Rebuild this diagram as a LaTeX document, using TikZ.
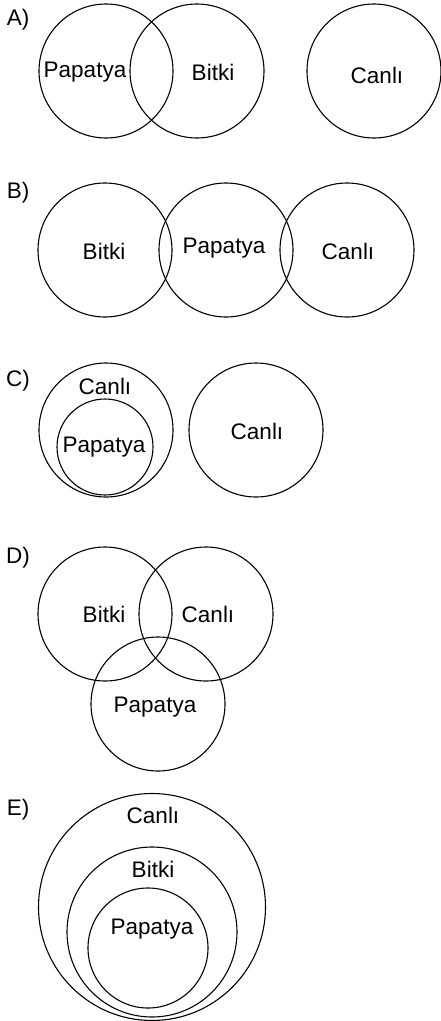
\documentclass[tikz,border=0pt]{standalone}
\usepackage{fontspec}
\setmainfont{Liberation Sans}
\usepackage{tikz}
\usetikzlibrary{positioning}
\tikzset{%
	venn/.style  = {draw, circle, line width=1.1pt, inner sep=0pt},
	small/.style = {venn, minimum size=96pt},
	mid/.style   = {venn, minimum size=120pt},
	big/.style   = {venn, minimum size=134pt},
	huge/.style  = {venn, minimum size=170pt},
	giant/.style = {venn, minimum size=227pt},
	setname/.style = {font=\fontsize{22.5}{26}\selectfont, inner sep=0pt},
	option/.style  = {font=\fontsize{22.5}{26}\selectfont, inner sep=0pt},
}
\begin{document}
\begin{tikzpicture}[x=1pt,y=-1pt]
		\useasboundingbox (0,0) rectangle (440,1021);
		
		\foreach \l/\y in {A/20,B/193,C/381,D/558,E/810} \node[option] (opt\l) at (18,\y) {\l)};
		
		\node[big] (aP) at (106,71) {};
		\node[big] (aB) at (197,71) {};
		\node[big] (aC) at (374,71) {};
		\node[setname] (aPt) at (85,72) {Papatya};
		\node[setname] (aBt) at (213,72) {Bitki};
		\node[setname] (aCt) at (377,75) {Canlı};
		
		\node[big] (bB) at (105,250) {};
		\node[big] (bP) at (226,250) {};
		\node[big] (bC) at (347,250) {};
		\node[setname] (bBt) at (104,251) {Bitki};
		\node[setname] (bPt) at (224,248) {Papatya};
		\node[setname] (bCt) at (348,251) {Canlı};
		
		\node[big] (cC) at (106,430) {};
		\node[small] (cP) at (105,447) {};
		\node[big] (cR) at (256,430) {};
		\node[setname] (cCt) at (105,386) {Canlı};
		\node[setname] (cPt) at (104,447) {Papatya};
		\node[setname] (cRt) at (257,431) {Canlı};
		
		\node[big] (dB) at (105,614) {};
		\node[big] (dC) at (206,614) {};
		\node[big] (dP) at (158,704) {};
		\node[setname] (dBt) at (104,614) {Bitki};
		\node[setname] (dCt) at (208,614) {Canlı};
		\node[setname] (dPt) at (155,707) {Papatya};
		
		\node[giant] (eC) at (152,907) {};
		\node[huge] (eB) at (152,932) {};
		\node[mid] (eP) at (148,948) {};
		\node[setname] (eCt) at (153,815) {Canlı};
		\node[setname] (eBt) at (153,869) {Bitki};
		\node[setname] (ePt) at (152,929) {Papatya};
	\end{tikzpicture}
\end{document}
